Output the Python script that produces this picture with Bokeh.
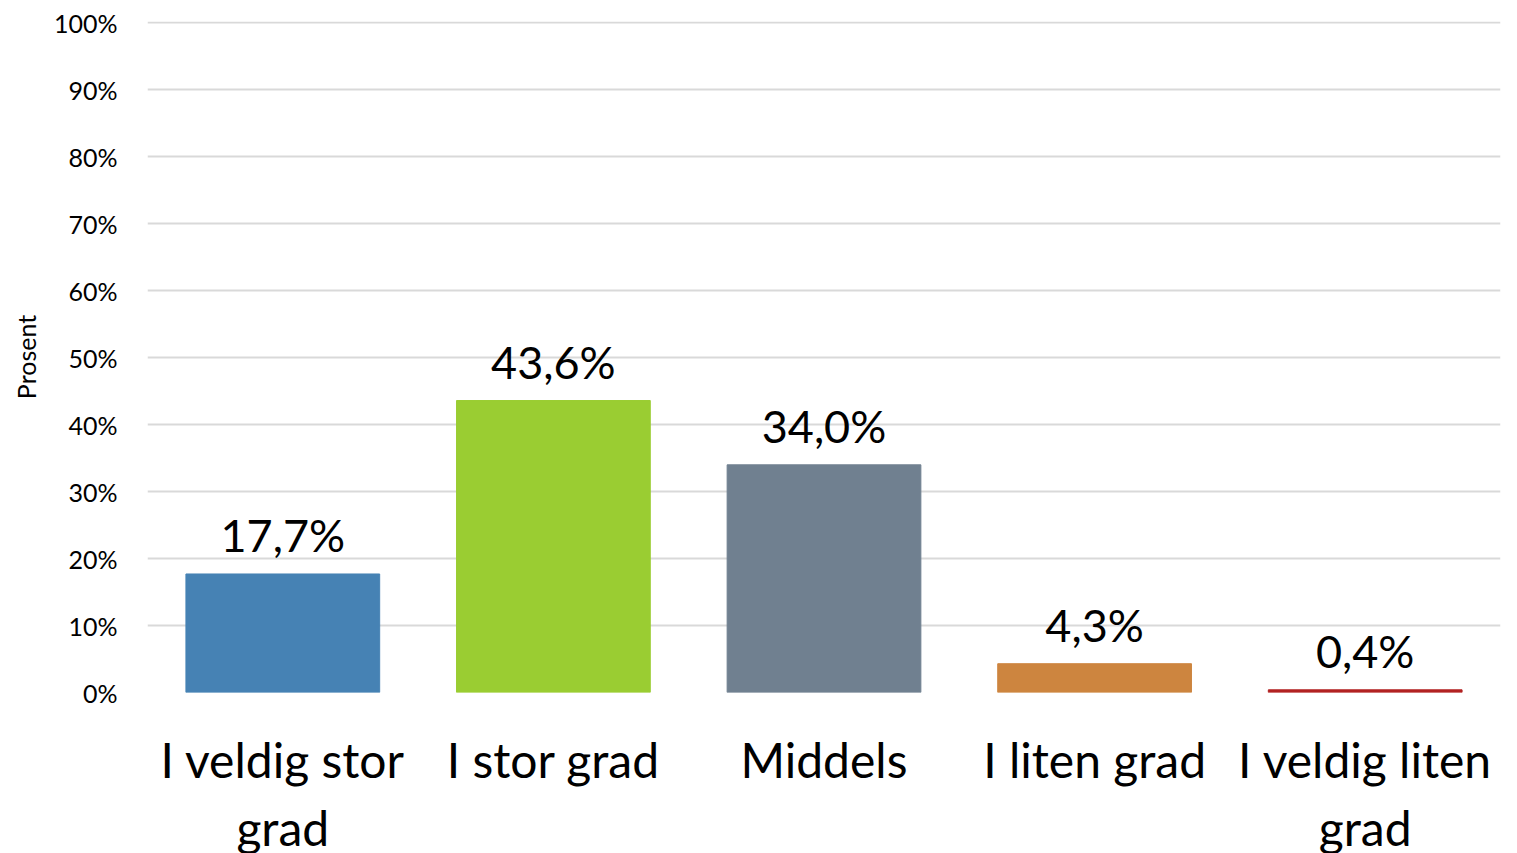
from bokeh.plotting import figure
from bokeh.models import ColumnDataSource, LabelSet, FixedTicker, Range1d
from bokeh.core.properties import value
from bokeh.embed import file_html
from bokeh.resources import INLINE

categories = ["I veldig stor\ngrad", "I stor grad", "Middels", "I liten grad", "I veldig liten\ngrad"]
values = [17.7, 43.6, 34.0, 4.3, 0.4]
labels = ["17,7%", "43,6%", "34,0%", "4,3%", "0,4%"]
colors = ["#4682B4", "#9ACD32", "#708090", "#CD853F", "#B22222"]
y_ticks = [0, 10, 20, 30, 40, 50, 60, 70, 80, 90, 100]
y_tick_labels = {t: f"{t}%" for t in y_ticks}

FONT = "Lato"

src = ColumnDataSource(dict(cat=categories, val=values, lab=labels, col=colors))

p = figure(x_range=categories, y_range=Range1d(0, 100.2),
           frame_width=1353, frame_height=671,
           output_backend="svg", toolbar_location=None,
           min_border_left=147, min_border_right=9, min_border_top=21, min_border_bottom=10)
p.outline_line_color = None
p.background_fill_color = "white"

p.vbar(x="cat", top="val", width=0.716, color="col", source=src)

p.xgrid.grid_line_color = None
p.ygrid.grid_line_color = "#d9d9d9"
p.ygrid.grid_line_width = 2
p.ygrid.level = "underlay"

p.yaxis.ticker = FixedTicker(ticks=y_ticks)
p.yaxis.major_label_overrides = y_tick_labels
p.yaxis.axis_line_color = None
p.yaxis.major_tick_line_color = None
p.yaxis.minor_tick_line_color = None
p.yaxis.major_label_text_font = FONT
p.yaxis.major_label_text_font_size = "25px"
p.yaxis.major_label_text_color = "#000000"
p.yaxis.major_label_standoff = 24
p.yaxis.axis_label = "Prosent"
p.yaxis.axis_label_text_font = FONT
p.yaxis.axis_label_text_font_size = "25px"
p.yaxis.axis_label_text_font_style = "normal"
p.yaxis.axis_label_text_color = "#000000"
p.yaxis.axis_label_standoff = 10

p.xaxis.axis_line_color = None
p.xaxis.major_tick_line_color = None
p.xaxis.minor_tick_line_color = None
p.xaxis.major_label_text_font = FONT
p.xaxis.major_label_text_font_size = "48px"
p.xaxis.major_label_text_color = "#000000"
p.xaxis.major_label_standoff = 32
p.xaxis.major_label_text_line_height = 1.2

lbl = LabelSet(x="cat", y="val", text="lab", source=src, text_align="center",
               text_baseline="bottom", y_offset=12, text_font=value(FONT),
               text_font_size="45px", text_color="#000000")
p.add_layout(lbl)

open("out.html", "w").write(file_html(p, INLINE))
